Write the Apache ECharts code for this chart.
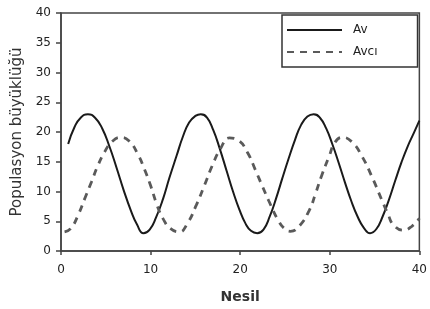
<!DOCTYPE html>
<html>
<head>
<meta charset="utf-8">
<script src="https://cdn.jsdelivr.net/npm/echarts@6/dist/echarts.min.js"></script>
<style>
  html, body { margin: 0; padding: 0; background: #fff; }
  #chart { width: 430px; height: 309px; }
</style>
</head>
<body>
<div id="chart"></div>
<script>
  // generation (nesil) and population for each curve
  var avNesil = [0.8, 1.5, 2.2, 3.0, 3.8, 4.6, 5.4, 6.2, 7.0, 7.8, 8.5, 9.2, 9.9, 10.6, 11.4, 12.1, 12.9, 13.6, 14.3, 15.0,
                 15.6, 16.3, 17.0, 17.7, 18.5, 19.2, 19.9, 20.6, 21.2, 21.9, 22.6, 23.3, 24.0, 24.7, 25.4, 26.1, 26.8, 27.5,
                 28.2, 28.9, 29.6, 30.3, 31.0, 31.7, 32.4, 33.1, 33.8, 34.5, 35.2, 35.9, 36.6, 37.3, 38.0, 38.7, 39.4, 40.0];
  var av = [18, 20.8, 22.4, 23, 22.4, 20.6, 17.6, 14, 10.2, 6.8, 4.4, 3, 3.6, 5.6, 8.8, 12.3, 16, 19.2, 21.6, 22.7,
            23, 22.4, 20.3, 17.3, 13.4, 10, 7, 4.6, 3.4, 3, 3.6, 5.8, 8.8, 12.2, 15.5, 18.6, 21.2, 22.6,
            23, 22.4, 20.6, 17.9, 14.8, 11.5, 8.4, 5.8, 3.9, 3, 3.7, 5.8, 8.6, 11.8, 14.9, 17.6, 19.9, 21.9];
  var avciNesil = [0.4, 1.1, 1.9, 2.7, 3.4, 4.1, 4.85, 5.7, 6.7, 7.6, 8.6, 9.3, 10.0, 10.7, 11.4, 12.2, 13.2, 14.1, 15.1, 16.0,
                   16.9, 17.8, 18.8, 19.8, 20.8, 21.7, 22.5, 23.2, 24.3, 25.0, 25.6, 26.6, 27.7, 28.4, 29.1, 29.9, 30.6, 31.4,
                   32.5, 33.6, 34.7, 35.8, 36.5, 37.1, 38.2, 39.2, 40.0];
  var avci = [3.2, 3.8, 6, 9, 11.6, 14.3, 16.6, 18.4, 19.1, 18.5, 16.2, 13.8, 11, 7.8, 5.4, 3.8, 3.2, 4.6, 7.7, 11,
              14.4, 17.2, 19, 18.6, 16.6, 13.6, 10.8, 8.4, 5, 3.7, 3.3, 4.2, 6.8, 9.6, 12.7, 15.8, 18.3, 19.1,
              18.3, 15.9, 12.5, 8.6, 6.2, 4.4, 3.5, 4.2, 5.5];
  var seriesNames = ['Av', 'Avcı'];
  var xTicks = [0, 10, 20, 30, 40];
  var yTicks = [0, 5, 10, 15, 20, 25, 30, 35, 40];

  function pairs(xs, ys) {
    return xs.map(function (x, i) { return [x, ys[i]]; });
  }

  var chart = echarts.init(document.getElementById('chart'));
  var font = 'DejaVu Sans, Liberation Sans, sans-serif';
  chart.setOption({
    animation: false,
    textStyle: { fontFamily: font },
    grid: {
      left: 61, right: 9, top: 13, bottom: 56,
      show: true, borderColor: '#444', borderWidth: 1.5, backgroundColor: 'transparent'
    },
    legend: {
      orient: 'vertical',
      left: 282, top: 15,
      padding: [9, 40, 9, 4],
      borderColor: '#333', borderWidth: 1.5, borderRadius: 0,
      itemWidth: 55, itemHeight: 14, itemGap: 10,
      itemStyle: { opacity: 0 },
      textStyle: { fontSize: 12, color: '#222', fontFamily: font, padding: [0, 0, 0, 6] },
      data: seriesNames
    },
    xAxis: {
      type: 'value',
      min: xTicks[0], max: xTicks[xTicks.length - 1], interval: 10,
      name: 'Nesil', nameLocation: 'middle', nameGap: 39,
      nameTextStyle: { fontSize: 14, fontWeight: 'bold', color: '#333', fontFamily: font },
      axisLine: { lineStyle: { color: '#444', width: 1.5 } },
      axisTick: { show: true, length: 4, lineStyle: { color: '#444', width: 1.5 } },
      axisLabel: { fontSize: 12, color: '#222', margin: 13, fontFamily: font },
      splitLine: { show: false }
    },
    yAxis: {
      type: 'value',
      min: yTicks[0], max: yTicks[yTicks.length - 1], interval: 5,
      name: 'Populasyon büyüklüğü', nameLocation: 'middle', nameGap: 35, nameRotate: 90,
      nameTextStyle: { fontSize: 15, color: '#333', fontFamily: font },
      axisLine: { show: true, lineStyle: { color: '#444', width: 1.5 } },
      axisTick: { show: true, length: 5, lineStyle: { color: '#444', width: 1.5 } },
      axisLabel: { fontSize: 12, color: '#222', margin: 10, fontFamily: font },
      splitLine: { show: false }
    },
    series: [
      {
        name: seriesNames[0], type: 'line', smooth: true, symbol: 'none',
        lineStyle: { color: '#1a1a1a', width: 2, type: 'solid' },
        itemStyle: { color: '#1a1a1a' },
        data: pairs(avNesil, av)
      },
      {
        name: seriesNames[1], type: 'line', smooth: true, symbol: 'none',
        lineStyle: { color: '#5a5a5a', width: 2.8, type: [7, 6] },
        itemStyle: { color: '#5a5a5a' },
        data: pairs(avciNesil, avci)
      }
    ]
  });
</script>
</body>
</html>
